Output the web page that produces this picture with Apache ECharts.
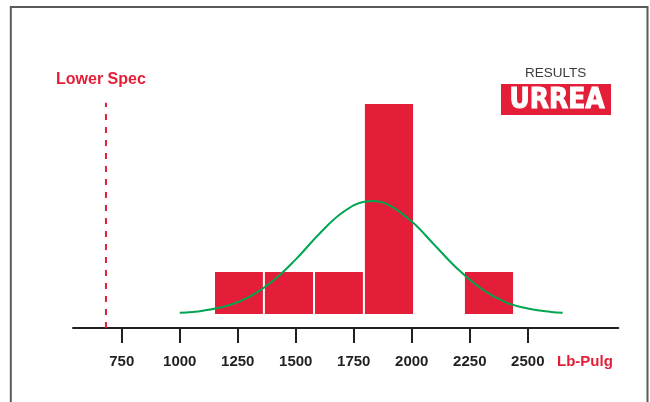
<html>
<head>
    <meta charset="utf-8" />
    <script src="https://cdn.jsdelivr.net/npm/echarts@6/dist/echarts.min.js"></script>
    <style>
        body { margin: 0; background: #fff; }
    </style>
</head>
<body>
    <div id="main" style="width: 650px;height:402px;"></div>

    <script>
        // histogram bins: left edge, right edge (Lb-Pulg)
        var binStarts = [1152, 1367, 1583, 1798, 2014, 2229]
        var binEnds = [1367, 1583, 1798, 2014, 2229, 2445]
        var binCounts = [1, 1, 1, 5, 0, 1]

        // fitted normal curve
        var curveX = [1000, 1100, 1200, 1300, 1400, 1500, 1600, 1700, 1800, 1830, 1900, 2000, 2100, 2200, 2300, 2400, 2500, 2600, 2650]
        var curveY = [0.03, 0.08, 0.19, 0.41, 0.78, 1.30, 1.90, 2.41, 2.68, 2.69, 2.60, 2.20, 1.63, 1.06, 0.60, 0.29, 0.13, 0.05, 0.03]

        var tickValues = [750, 1000, 1250, 1500, 1750, 2000, 2250, 2500]
        var lowerSpec = 682
        var lowerSpecTop = 5.03

        var RED = '#e41e38'
        var GREEN = '#00a651'
        var DARK = '#231f20'
        var SANS = "'Liberation Sans', Arial, sans-serif"

        var binData = []
        for (var i = 0; i < binStarts.length; i++) {
            binData.push([binStarts[i], binEnds[i], binCounts[i]])
        }
        var curveData = []
        for (var j = 0; j < curveX.length; j++) {
            curveData.push([curveX[j], curveY[j]])
        }

        var option = {
            animation: false,
            title: [
                {
                    text: 'Lower Spec', left: 56, top: 72, padding: 0,
                    textStyle: { color: RED, fontFamily: SANS, fontWeight: 'bold', fontSize: 16 }
                },
                {
                    text: 'Lb-Pulg', left: 557, top: 354, padding: 0,
                    textStyle: { color: RED, fontFamily: SANS, fontWeight: 'bold', fontSize: 15 }
                },
                {
                    text: 'RESULTS', left: 525, top: 66, padding: 0,
                    textStyle: { color: '#3a3a3a', fontFamily: SANS, fontWeight: 'normal', fontSize: 13.5 }
                }
            ],
            graphic: [
                {
                    type: 'polyline',
                    shape: { points: [[10.8, 402], [10.8, 7], [647.5, 7], [647.5, 402]] },
                    style: { stroke: '#5a5a5a', lineWidth: 2, fill: null },
                    silent: true
                },
                {
                    type: 'group',
                    left: 501, top: 84,
                    children: [
                        { type: 'rect', shape: { x: 0, y: 0, width: 110, height: 31 }, style: { fill: RED } },
                        {
                            type: 'text', x: 56, y: 16.5, scaleY: 1.12,
                            style: {
                                text: 'URREA', fill: '#fff', align: 'center', verticalAlign: 'middle',
                                font: "bold 25px 'DejaVu Sans', sans-serif",
                                stroke: '#fff', lineWidth: 1,
                                textShadowColor: '#111', textShadowOffsetX: -2, textShadowOffsetY: 2, textShadowBlur: 0
                            }
                        }
                    ]
                }
            ],
            grid: {
                left: 73,
                right: 31.7,
                top: 20,
                bottom: 74,
                containLabel: false,
                outerBoundsMode: 'none'
            },
            xAxis: {
                type: 'value',
                min: 540,
                max: 2890,
                splitLine: { show: false },
                axisLine: { show: true, onZero: false, lineStyle: { color: DARK, width: 2 } },
                axisTick: {
                    show: true, inside: false, length: 15,
                    customValues: tickValues,
                    lineStyle: { color: DARK, width: 2 }
                },
                axisLabel: {
                    customValues: tickValues,
                    formatter: function (v) { return String(v) },
                    margin: 26,
                    color: DARK,
                    fontFamily: SANS,
                    fontWeight: 'bold',
                    fontSize: 15
                }
            },
            yAxis: {
                type: 'value',
                show: false,
                min: -0.3333,
                max: 7,
                splitLine: { show: false }
            },
            series: [
                {
                    name: 'bins',
                    type: 'custom',
                    renderItem: function (params, api) {
                        var p0 = api.coord([api.value(0), 0])
                        var p1 = api.coord([api.value(1), api.value(2)])
                        return {
                            type: 'rect',
                            shape: { x: p0[0], y: p1[1], width: p1[0] - p0[0] - 2, height: p0[1] - p1[1] },
                            style: { fill: RED }
                        }
                    },
                    encode: { x: [0, 1], y: 2 },
                    data: binData
                },
                {
                    name: 'normal',
                    type: 'line',
                    smooth: 0.4,
                    symbol: 'none',
                    lineStyle: { color: GREEN, width: 2 },
                    data: curveData
                },
                {
                    name: 'lowerSpec',
                    type: 'line',
                    symbol: 'none',
                    lineStyle: { color: RED, width: 2, type: [6, 7] },
                    data: [[lowerSpec, -0.3333], [lowerSpec, lowerSpecTop]]
                }
            ]
        };

        var chart = echarts.init(document.getElementById('main'))
        chart.setOption(option);
    </script>
</body>
</html>
